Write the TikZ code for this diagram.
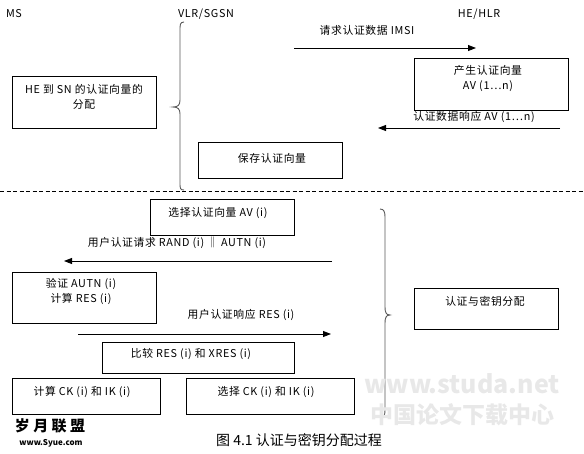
\documentclass[tikz,border=0pt]{standalone}
\usepackage{fontspec}
\setmainfont[LetterSpace=6]{Noto Sans CJK SC}
\newfontfamily\capfont{Noto Sans CJK SC}
\usetikzlibrary{arrows.meta}
\tikzset{
  box/.style={draw=black, line width=0.9pt},
  lbl/.style={font=\fontsize{10.8}{15}\selectfont, inner sep=0pt, align=center},
  msg/.style={line width=0.9pt, -{Triangle[length=8pt,width=6pt]}},
  brace/.style={draw=black!65, line width=0.9pt},
  wm/.style={text=black!9, inner sep=0pt}
}
\begin{document}
\begin{tikzpicture}[x=1pt,y=-1pt]
\useasboundingbox (0,0) rectangle (584,453);
% headers
\node[lbl] (ms) at (14,14) {MS};
\node[lbl] (vlr) at (206,14) {VLR/SGSN};
\node[lbl] (he) at (479,14) {HE/HLR};
% top brace
\draw[brace] (184,22) .. controls (180,22) and (180,25) .. (180,30) -- (180,100)
  .. controls (180,105) and (178,107) .. (173,107)
  .. controls (178,107) and (180,109) .. (180,114) -- (180,183)
  .. controls (180,188) and (180,190) .. (184,190);
% top boxes
\draw[box] (12,76) rectangle (156,128);
\node[lbl] (b1) at (84,97) {HE 到 SN 的认证向量的\\分配};
\draw[box] (198,142) rectangle (342,178);
\node[lbl] (b2) at (272,158) {保存认证向量};
\draw[box] (414,58) rectangle (568,110);
\node[lbl] (b3) at (488,79) {产生认证向量\\AV (1…n)};
% top arrows
\coordinate (a1s) at (294,48); \coordinate (a1e) at (476,48);
\draw[msg] (a1s) -- (a1e);
\node[lbl] (l1) at (367,30) {请求认证数据 IMSI};
\coordinate (a2s) at (560,128); \coordinate (a2e) at (378,128);
\draw[msg] (a2s) -- (a2e);
\node[lbl] (l2) at (474,117) {认证数据响应 AV (1…n)};
% separator
\coordinate (d1) at (0,191); \coordinate (d2) at (584,191);
\draw[line width=0.8pt, dash pattern=on 4pt off 2.5pt] (d1) -- (d2);
% lower boxes
\draw[box] (150,199) rectangle (294,235);
\node[lbl] (c1) at (218,213) {选择认证向量 AV (i)};
\coordinate (a3s) at (332,261); \coordinate (a3e) at (64,261);
\draw[msg] (a3s) -- (a3e);
\node[lbl] (l3) at (177,243) {用户认证请求 RAND (i) ‖ AUTN (i)};
\draw[box] (12,272) rectangle (156,323);
\node[lbl] (c2) at (81,291) {验证 AUTN (i)\\计算 RES (i)};
\coordinate (a4s) at (78,334); \coordinate (a4e) at (331,334);
\draw[msg] (a4s) -- (a4e);
\node[lbl] (l4) at (241,315) {用户认证响应 RES (i)};
\draw[box] (102,342) rectangle (294,373);
\node[lbl] (c3) at (191,354) {比较 RES (i) 和 XRES (i)};
\draw[box] (12,378) rectangle (160,414);
\node[lbl] (c4) at (82,392) {计算 CK (i) 和 IK (i)};
\draw[box] (186,378) rectangle (354,414);
\node[lbl] (c5) at (266,392) {选择 CK (i) 和 IK (i)};
% lower brace
\draw[brace] (380,209) .. controls (384,209) and (385,212) .. (385,217) -- (385,307)
  .. controls (385,312) and (386,315) .. (390,315)
  .. controls (386,315) and (385,318) .. (385,323) -- (385,410)
  .. controls (385,415) and (384,418) .. (380,418);
\draw[box] (414,288) rectangle (558,329);
\node[lbl] (c6) at (485,301) {认证与密钥分配};
% caption
\node[font=\capfont\fontsize{14}{16}\selectfont, inner sep=0pt] (cap) at (299,440) {图 4.1 认证与密钥分配过程};
% watermarks
\node[font=\capfont\fontsize{15}{17}\bfseries\selectfont, inner sep=0pt] (w1) at (50,426) {岁 月 联 盟};
\node[font=\capfont\fontsize{8}{9}\bfseries\selectfont, inner sep=0pt] (w2) at (51,443) {www.Syue.com};
\node[wm, font=\capfont\fontsize{25}{27}\bfseries\selectfont] (w3) at (462,384) {www.studa.net};
\node[wm, font=\capfont\fontsize{23}{25}\bfseries\selectfont] (w4) at (462,415) {中国论文下载中心};
\end{tikzpicture}
\end{document}
